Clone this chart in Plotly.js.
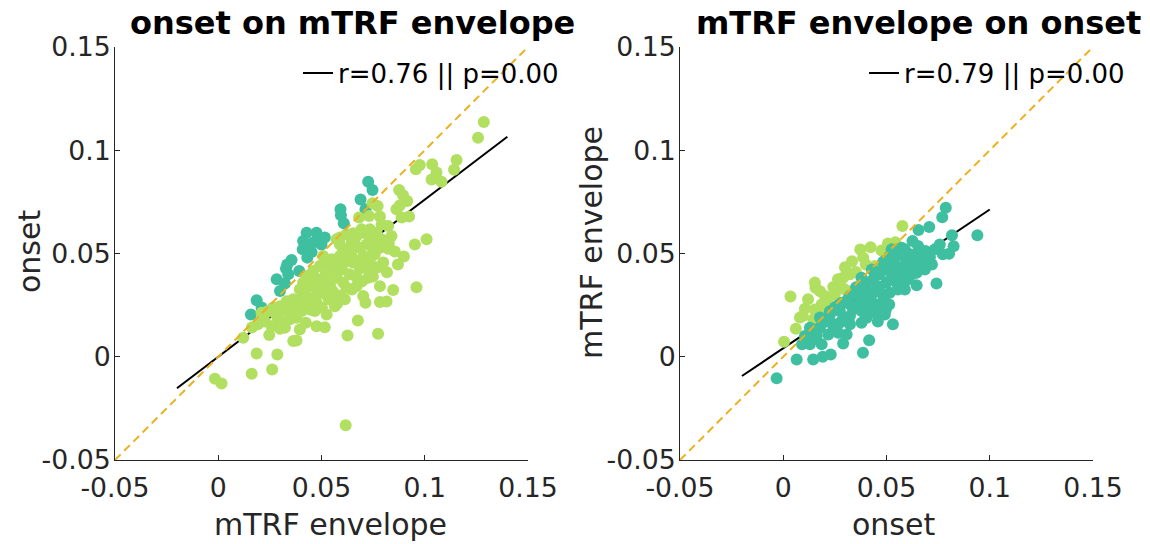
<!DOCTYPE html>
<html>
<head>
<meta charset="utf-8">
<script src="https://cdn.plot.ly/plotly-3.0.1.min.js"></script>
<style>
  html, body { margin: 0; padding: 0; background: #ffffff; }
  #chart { width: 1150px; height: 544px; }
</style>
</head>
<body>
<div id="chart"></div>
<script>
// ---- Left panel: onset regressed on mTRF envelope ----
// channels where onset > envelope
const leftTealEnv = [
  0.0726, 0.0747, 0.0689, 0.0713, 0.0592, 0.0594, 0.0608, 0.0428, 0.0476, 0.0516,
  0.0411, 0.0460, 0.0500, 0.0409, 0.0452, 0.0431, 0.0355, 0.0334, 0.0328, 0.0339,
  0.0392, 0.0283, 0.0323, 0.0299, 0.0186, 0.0210, 0.0158, 0.0445, 0.0490
];
const leftTealOnset = [
  0.0848, 0.0808, 0.0762, 0.0714, 0.0714, 0.0685, 0.0646, 0.0601, 0.0601, 0.0577,
  0.0560, 0.0553, 0.0544, 0.0520, 0.0507, 0.0480, 0.0468, 0.0447, 0.0427, 0.0399,
  0.0415, 0.0375, 0.0355, 0.0318, 0.0274, 0.0238, 0.0205, 0.0535, 0.0570
];
// channels where envelope > onset
const leftGreenEnv = [
  0.1286, 0.1258, 0.1154, 0.1142, 0.1036, 0.1057, 0.1033, 0.1081, 0.0976, 0.0957,
  0.0876, 0.0895, 0.0915, 0.0863, 0.0879, 0.0924, 0.0888, 0.0772, 0.0747, 0.0783,
  0.0731, 0.0682, 0.0823, 0.0791, 0.0839, 0.1009, 0.0694, 0.0653, 0.0589, 0.0573,
  0.0621, 0.0646, 0.0670, 0.0702, 0.0734, 0.0767, 0.0791, 0.0823, 0.0783, 0.0750,
  0.0718, 0.0686, 0.0646, 0.0605, 0.0589, 0.0952, 0.0508, 0.0549, 0.0589, 0.0621,
  0.0653, 0.0702, 0.0726, 0.0710, 0.0686, 0.0799, 0.0758, 0.0492, 0.0460, 0.0428,
  0.0411, 0.0444, 0.0476, 0.0516, 0.0549, 0.0573, 0.0605, 0.0621, 0.0670, 0.0726,
  0.0541, 0.0508, 0.0476, 0.0444, 0.0395, 0.0363, 0.0331, 0.0299, 0.0266, 0.0242,
  0.0218, 0.0210, 0.0476, 0.0468, 0.0428, 0.0404, 0.0379, 0.0347, 0.0315, 0.0290,
  0.0258, 0.0323, 0.0299, 0.0395, 0.0424, 0.0363, 0.0379, 0.0247, 0.0121, 0.0783,
  0.0847, 0.0702, 0.0713, 0.0783, 0.0815, 0.0960, 0.0676, 0.0774, 0.0626, 0.0565,
  0.0576, 0.0525, 0.0476, 0.0516, 0.0186, 0.0286, 0.0162, 0.0261, -0.0016, 0.0016,
  0.0617, 0.0526, 0.0565, 0.0599, 0.0637, 0.0671, 0.0492, 0.0521, 0.0555, 0.0589,
  0.0420, 0.0386, 0.0444, 0.0502, 0.0536, 0.0328, 0.0279, 0.0357, 0.0647, 0.0676,
  0.0734, 0.0773, 0.0749, 0.0696, 0.0647, 0.0613, 0.0826, 0.0855, 0.0899, 0.0870,
  0.0817, 0.0773, 0.0734, 0.0662, 0.0623, 0.0575, 0.0483, 0.0405, 0.0226, 0.0192,
  0.0163
];
const leftGreenOnset = [
  0.1137, 0.1060, 0.0953, 0.0906, 0.0932, 0.0892, 0.0858, 0.0848, 0.0929, 0.0908,
  0.0808, 0.0782, 0.0754, 0.0714, 0.0733, 0.0679, 0.0674, 0.0730, 0.0743, 0.0679,
  0.0681, 0.0674, 0.0633, 0.0641, 0.0585, 0.0569, 0.0617, 0.0598, 0.0577, 0.0569,
  0.0593, 0.0553, 0.0585, 0.0601, 0.0577, 0.0601, 0.0569, 0.0523, 0.0528, 0.0512,
  0.0544, 0.0528, 0.0512, 0.0520, 0.0544, 0.0544, 0.0488, 0.0472, 0.0488, 0.0463,
  0.0456, 0.0488, 0.0423, 0.0447, 0.0427, 0.0456, 0.0496, 0.0439, 0.0415, 0.0391,
  0.0359, 0.0342, 0.0375, 0.0391, 0.0407, 0.0383, 0.0359, 0.0334, 0.0342, 0.0383,
  0.0350, 0.0326, 0.0302, 0.0278, 0.0326, 0.0278, 0.0269, 0.0245, 0.0238, 0.0221,
  0.0189, 0.0213, 0.0262, 0.0221, 0.0262, 0.0221, 0.0189, 0.0181, 0.0165, 0.0181,
  0.0148, 0.0141, 0.0136, 0.0132, 0.0165, 0.0076, 0.0079, 0.0105, 0.0092, 0.0342,
  0.0323, 0.0294, 0.0262, 0.0265, 0.0267, 0.0337, 0.0176, 0.0111, 0.0103, 0.0245,
  0.0258, 0.0205, 0.0148, 0.0143, 0.0016, 0.0011, -0.0082, -0.0062, -0.0107, -0.0129,
  -0.0332, 0.0447, 0.0433, 0.0423, 0.0399, 0.0384, 0.0360, 0.0302, 0.0317, 0.0297,
  0.0302, 0.0253, 0.0229, 0.0239, 0.0278, 0.0220, 0.0205, 0.0229, 0.0481, 0.0462,
  0.0462, 0.0433, 0.0389, 0.0365, 0.0326, 0.0278, 0.0549, 0.0510, 0.0486, 0.0447,
  0.0409, 0.0544, 0.0617, 0.0544, 0.0496, 0.0447, 0.0326, 0.0278, 0.0171, 0.0157,
  0.0142
];
const leftFitSlope = 0.761;
const leftFitIntercept = 0.0;
const leftFitRange = [-0.02, 0.14];
const leftLegendLabel = 'r=0.76 || p=0.00';

// ---- Right panel: mTRF envelope regressed on onset ----
// channels where envelope > onset
const rightGreenOnset = [
  0.0577, 0.0543, 0.0476, 0.0423, 0.0373, 0.0387, 0.0400, 0.0444, 0.0323, 0.0352,
  0.0153, 0.0156, 0.0242, 0.0283, 0.0299, 0.0202, 0.0250, 0.0035, 0.0105, 0.0094,
  0.0153, 0.0145, 0.0061, 0.0004, 0.0186, 0.0202, 0.0274, 0.0216, 0.0290, 0.0120,
  0.0178, 0.0265, 0.0333, 0.0299, 0.0081, 0.0507
];
const rightGreenEnv = [
  0.0633, 0.0554, 0.0515, 0.0530, 0.0519, 0.0480, 0.0447, 0.0439, 0.0399, 0.0410,
  0.0359, 0.0334, 0.0338, 0.0334, 0.0326, 0.0294, 0.0302, 0.0292, 0.0233, 0.0197,
  0.0229, 0.0181, 0.0136, 0.0073, 0.0253, 0.0213, 0.0365, 0.0263, 0.0383, 0.0278,
  0.0317, 0.0375, 0.0462, 0.0433, 0.0190, 0.0549
];
// channels where onset > envelope
const rightTealOnset = [
  0.0787, 0.0770, 0.0707, 0.0655, 0.0817, 0.0940, 0.0825, 0.0803, 0.0773, 0.0626,
  0.0653, 0.0689, 0.0678, 0.0646, 0.0573, 0.0525, 0.0549, 0.0597, 0.0629, 0.0670,
  0.0742, 0.0646, 0.0589, 0.0565, 0.0605, -0.0032, 0.0065, 0.0145, 0.0191, 0.0230,
  0.0386, 0.0290, 0.0416, 0.0531, 0.0513, 0.0129, 0.0186, 0.0105, 0.0162, 0.0218,
  0.0266, 0.0307, 0.0129, 0.0178, 0.0242, 0.0323, 0.0379, 0.0178, 0.0226, 0.0274,
  0.0323, 0.0404, 0.0444, 0.0452, 0.0420, 0.0371, 0.0323, 0.0283, 0.0250, 0.0387,
  0.0484, 0.0516, 0.0500, 0.0468, 0.0436, 0.0404, 0.0379, 0.0581, 0.0460, 0.0404,
  0.0323, 0.0532, 0.0565, 0.0613, 0.0549, 0.0516, 0.0532, 0.0500, 0.0452, 0.0339,
  0.0289, 0.0274, 0.0137, 0.0581, 0.0694, 0.0646, 0.0352, 0.0483, 0.0429, 0.0226,
  0.0492, 0.0091, 0.0120, 0.0207, 0.0313, 0.0352, 0.0381, 0.0410, 0.0429, 0.0468,
  0.0487, 0.0458, 0.0497, 0.0526, 0.0541, 0.0555, 0.0623, 0.0662, 0.0686, 0.0710,
  0.0720, 0.0734, 0.0758, 0.0589, 0.0613, 0.0487, 0.0449, 0.0362, 0.0265, 0.0226,
  0.0187, 0.0149
];
const rightTealEnv = [
  0.0722, 0.0675, 0.0628, 0.0614, 0.0588, 0.0588, 0.0535, 0.0499, 0.0496, 0.0560,
  0.0536, 0.0512, 0.0488, 0.0496, 0.0528, 0.0520, 0.0488, 0.0472, 0.0447, 0.0439,
  0.0355, 0.0346, 0.0326, 0.0375, 0.0375, -0.0104, -0.0013, -0.0013, 0.0000, 0.0011,
  0.0019, 0.0064, 0.0080, 0.0157, 0.0253, 0.0060, 0.0060, 0.0100, 0.0100, 0.0108,
  0.0116, 0.0108, 0.0141, 0.0141, 0.0148, 0.0157, 0.0165, 0.0190, 0.0205, 0.0221,
  0.0197, 0.0189, 0.0213, 0.0253, 0.0278, 0.0262, 0.0253, 0.0262, 0.0238, 0.0294,
  0.0294, 0.0310, 0.0423, 0.0399, 0.0375, 0.0359, 0.0383, 0.0383, 0.0342, 0.0326,
  0.0294, 0.0456, 0.0423, 0.0423, 0.0359, 0.0488, 0.0407, 0.0359, 0.0326, 0.0229,
  0.0181, 0.0165, 0.0084, 0.0439, 0.0472, 0.0407, 0.0336, 0.0457, 0.0423, 0.0171,
  0.0205, 0.0060, 0.0094, 0.0171, 0.0278, 0.0302, 0.0220, 0.0239, 0.0302, 0.0317,
  0.0278, 0.0171, 0.0229, 0.0384, 0.0433, 0.0326, 0.0399, 0.0462, 0.0423, 0.0481,
  0.0447, 0.0520, 0.0544, 0.0520, 0.0496, 0.0462, 0.0413, 0.0326, 0.0249, 0.0220,
  0.0181, 0.0132
];
const rightFitSlope = 0.672;
const rightFitIntercept = 0.0041;
const rightFitRange = [-0.02, 0.10];
const rightLegendLabel = 'r=0.79 || p=0.00';

// ---- shared axis values ----
const identityRange = [-0.05, 0.15];
const tickValues = [-0.05, 0, 0.05, 0.1, 0.15];
const tickLabels = ['-0.05', '0', '0.05', '0.1', '0.15'];

const TEAL = '#3ebfa0';
const GREEN = '#b1df60';
const ORANGE = '#edb120';
const FONT = 'DejaVu Sans';
const W = 1150, H = 544;

function fitLine(slope, intercept, range) {
  return { x: range.slice(), y: range.map(v => slope * v + intercept) };
}

function scatter(x, y, color, xa, ya) {
  return {
    type: 'scatter', mode: 'markers', x: x, y: y, xaxis: xa, yaxis: ya,
    marker: { size: 12, color: color, line: { width: 0 } },
    showlegend: false, hoverinfo: 'x+y'
  };
}

function fitTrace(slope, intercept, range, label, xa, ya, legendId) {
  const f = fitLine(slope, intercept, range);
  return {
    type: 'scatter', mode: 'lines', x: f.x, y: f.y, xaxis: xa, yaxis: ya,
    line: { color: '#000000', width: 2 }, name: label, legend: legendId,
    showlegend: true
  };
}

function identityTrace(xa, ya) {
  return {
    type: 'scatter', mode: 'lines', x: identityRange, y: identityRange,
    xaxis: xa, yaxis: ya, line: { color: ORANGE, width: 2, dash: '8px,5px' },
    showlegend: false, hoverinfo: 'skip'
  };
}

const traces = [
  fitTrace(leftFitSlope, leftFitIntercept, leftFitRange, leftLegendLabel, 'x', 'y', 'legend'),
  scatter(leftTealEnv, leftTealOnset, TEAL, 'x', 'y'),
  scatter(leftGreenEnv, leftGreenOnset, GREEN, 'x', 'y'),
  identityTrace('x', 'y'),
  fitTrace(rightFitSlope, rightFitIntercept, rightFitRange, rightLegendLabel, 'x2', 'y2', 'legend2'),
  scatter(rightGreenOnset, rightGreenEnv, GREEN, 'x2', 'y2'),
  scatter(rightTealOnset, rightTealEnv, TEAL, 'x2', 'y2'),
  identityTrace('x2', 'y2')
];

function axis(domain, anchor, standoff) {
  return {
    domain: domain, anchor: anchor, range: [-0.05, 0.15],
    tickmode: 'array', tickvals: tickValues, ticktext: tickLabels,
    ticks: 'inside', ticklen: 5, tickwidth: 1, tickcolor: '#262626',
    ticklabelstandoff: standoff,
    showline: true, linecolor: '#262626', linewidth: 1, mirror: false,
    showgrid: false, zeroline: false,
    tickfont: { family: FONT, size: 26.7, color: '#262626' }
  };
}

const yDomain = [84 / H, 497 / H];

function label(text, xPx, yPx, opts) {
  return Object.assign({
    xref: 'paper', yref: 'paper', x: xPx / W, y: 1 - yPx / H,
    xanchor: 'center', yanchor: 'middle', showarrow: false, text: text,
    font: { family: FONT, size: 30, color: '#262626' }
  }, opts || {});
}

const titleFont = { family: FONT, size: 32, color: '#000000', weight: 'bold' };

const layout = {
  width: W, height: H,
  margin: { l: 0, r: 0, t: 0, b: 0 },
  paper_bgcolor: '#ffffff', plot_bgcolor: '#ffffff',
  xaxis: axis([115 / W, 528 / W], 'y', 4),
  yaxis: axis(yDomain, 'x', -2),
  xaxis2: axis([680 / W, 1093 / W], 'y2', 4),
  yaxis2: axis(yDomain, 'x2', -2),
  legend: {
    x: 298 / W, xanchor: 'left', y: 1 - 73 / H, yanchor: 'middle',
    bgcolor: 'rgba(0,0,0,0)', borderwidth: 0,
    font: { family: FONT, size: 26, color: '#000000' }
  },
  legend2: {
    x: 864 / W, xanchor: 'left', y: 1 - 73 / H, yanchor: 'middle',
    bgcolor: 'rgba(0,0,0,0)', borderwidth: 0,
    font: { family: FONT, size: 26, color: '#000000' }
  },
  annotations: [
    label('onset on mTRF envelope', 352, 23, { font: titleFont }),
    label('mTRF envelope on onset', 918, 23, { font: titleFont }),
    label('mTRF envelope', 330, 524),
    label('onset', 893, 524),
    label('onset', 29, 252, { textangle: -90 }),
    label('mTRF envelope', 591, 243, { textangle: -90 })
  ],
  showlegend: true
};

Plotly.newPlot('chart', traces, layout, { staticPlot: true, displayModeBar: false });
</script>
</body>
</html>
